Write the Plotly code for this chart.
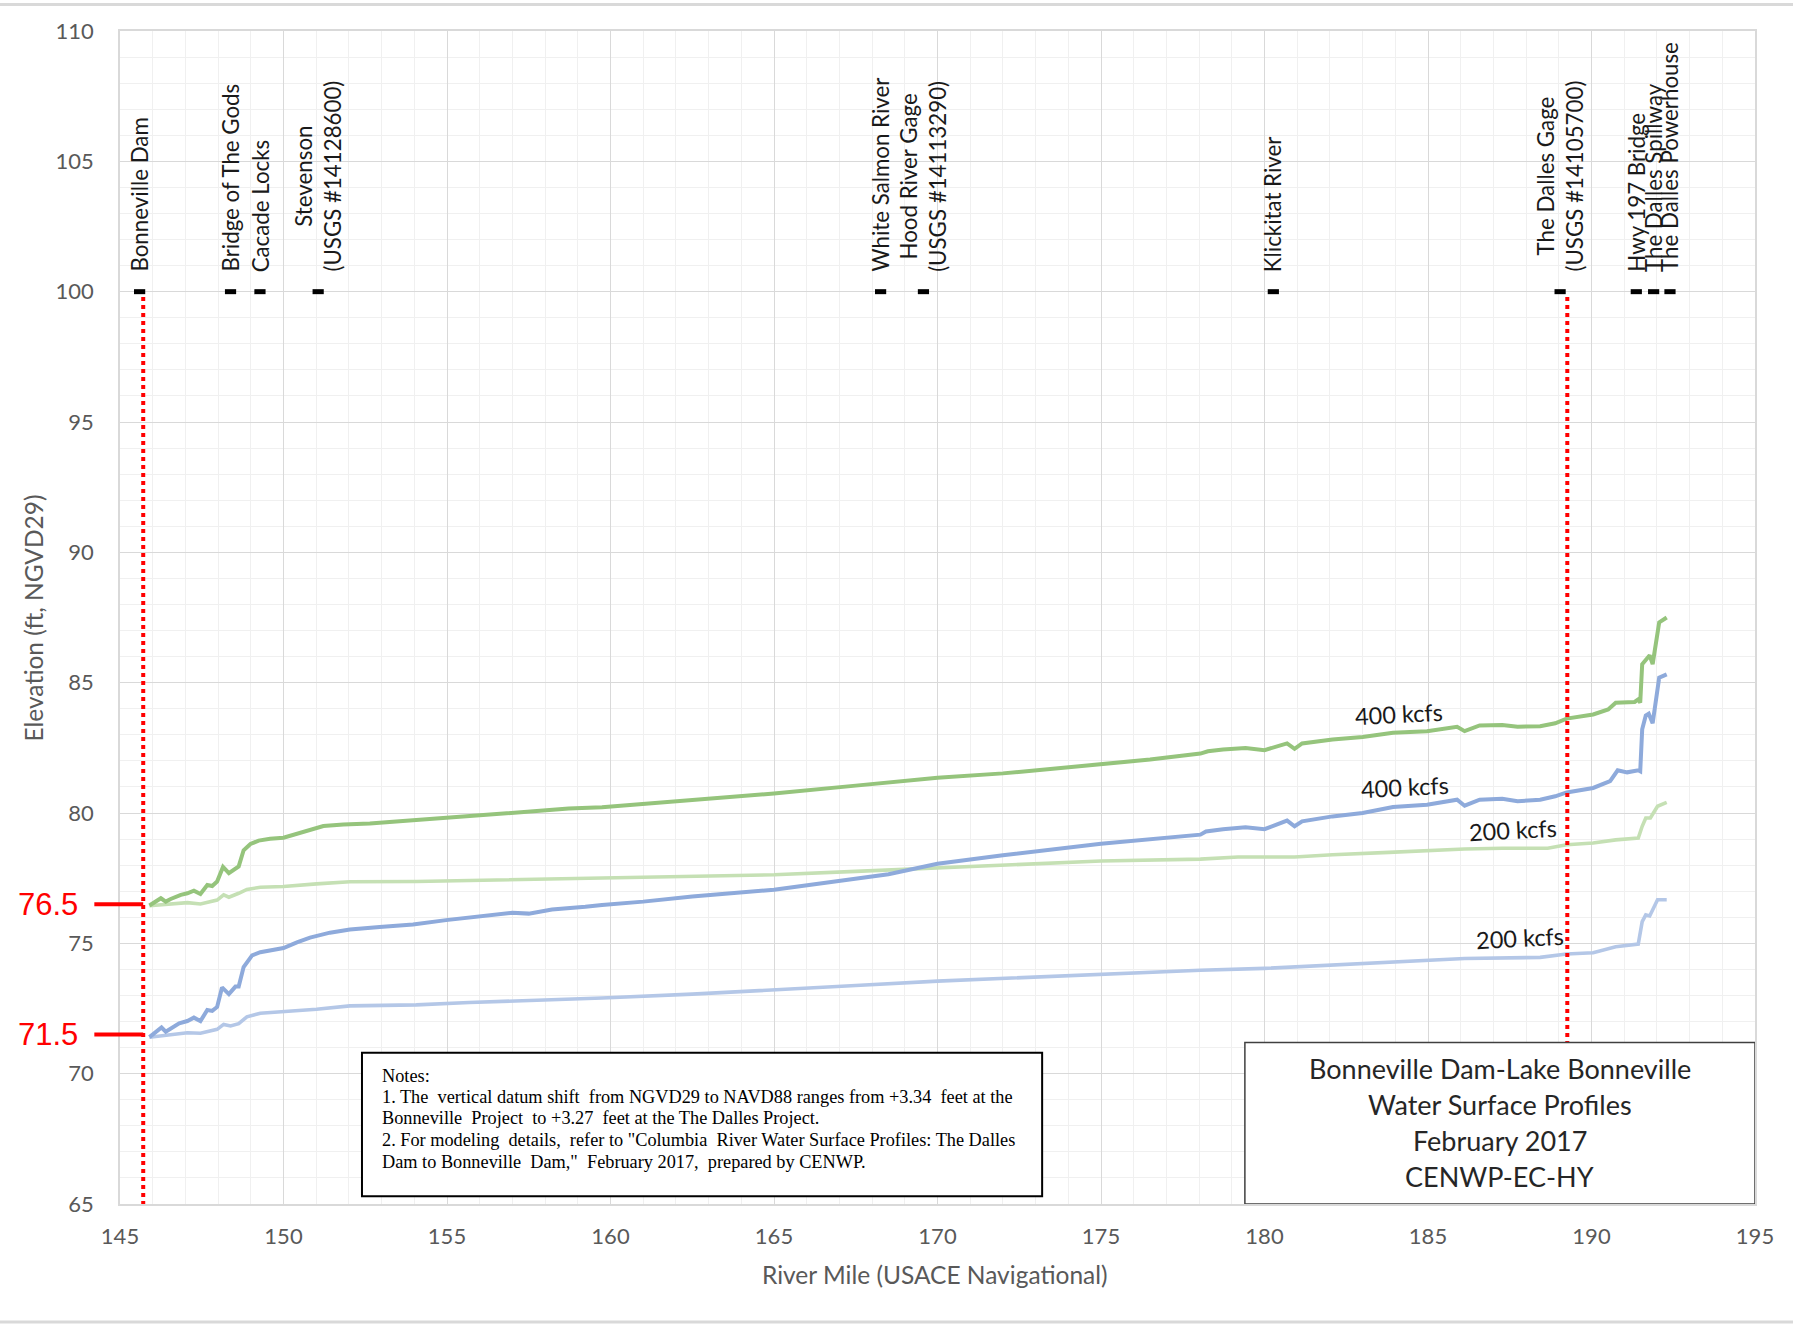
import plotly.graph_objects as go

# ---------------- data ----------------
g400_mile = [145.9, 146.15, 146.25, 146.4, 146.55, 146.86, 147.06, 147.26, 147.46, 147.67, 147.82, 147.97,
             148.15, 148.33, 148.53, 148.63, 148.78, 148.99, 149.24, 149.59, 150.0, 150.41, 150.81, 151.22,
             151.83, 152.64, 153.65, 154.67, 155.68, 156.69, 157.71, 158.72, 159.74, 161.0, 162.5, 165.0,
             167.5, 170.0, 172.0, 175.0, 176.5, 178.04, 178.27, 178.73, 179.42, 180.0, 180.69, 180.92,
             181.15, 182.08, 183.0, 183.93, 184.97, 185.89, 186.12, 186.58, 187.27, 187.74, 188.43, 188.89,
             189.24, 190.05, 190.51, 190.74, 191.32, 191.43, 191.49, 191.55, 191.66, 191.78, 191.87, 191.95,
             192.07, 192.3]
g400_elev = [76.45, 76.64, 76.73, 76.6, 76.7, 76.86, 76.92, 77.02, 76.89, 77.24, 77.2, 77.37,
             77.93, 77.69, 77.89, 77.95, 78.57, 78.81, 78.94, 79.01, 79.05, 79.21, 79.37, 79.5,
             79.56, 79.6, 79.69, 79.78, 79.88, 79.97, 80.05, 80.17, 80.22, 80.35, 80.5, 80.75,
             81.05, 81.35, 81.52, 81.89, 82.05, 82.28, 82.37, 82.44, 82.49, 82.41, 82.67, 82.46,
             82.67, 82.82, 82.92, 83.08, 83.14, 83.31, 83.14, 83.36, 83.38, 83.31, 83.33, 83.44,
             83.62, 83.78, 83.97, 84.23, 84.26, 84.36, 84.23, 85.71, 85.9, 86.05, 85.71, 86.28,
             87.31, 87.5]

b400_mile = [145.9, 146.15, 146.27, 146.4, 146.55, 146.81, 147.06, 147.26, 147.46, 147.67, 147.82, 147.97,
             148.12, 148.33, 148.53, 148.63, 148.78, 149.04, 149.29, 149.7, 150.0, 150.41, 150.81, 151.42,
             152.03, 152.94, 153.96, 154.97, 155.98, 157.0, 157.5, 158.21, 159.23, 159.74, 161.0, 162.5,
             165.0, 167.0, 168.5, 170.0, 172.0, 175.0, 177.0, 178.04, 178.21, 178.73, 179.42, 180.0,
             180.69, 180.92, 181.15, 182.08, 183.0, 183.93, 184.97, 185.89, 186.12, 186.58, 187.27, 187.74,
             188.43, 188.89, 189.24, 190.05, 190.57, 190.8, 191.09, 191.43, 191.49, 191.55, 191.66, 191.75,
             191.87, 191.95, 192.07, 192.3]
b400_elev = [71.4, 71.64, 71.77, 71.61, 71.74, 71.93, 72.02, 72.15, 72.02, 72.44, 72.41, 72.56,
             73.31, 73.05, 73.34, 73.34, 74.09, 74.54, 74.66, 74.76, 74.82, 75.04, 75.22, 75.41,
             75.53, 75.63, 75.72, 75.89, 76.02, 76.17, 76.14, 76.3, 76.4, 76.47, 76.6, 76.8,
             77.06, 77.41, 77.65, 78.05, 78.38, 78.82, 79.04, 79.17, 79.29, 79.38, 79.45, 79.38,
             79.71, 79.49, 79.68, 79.87, 80.0, 80.23, 80.32, 80.51, 80.28, 80.51, 80.55, 80.45,
             80.51, 80.64, 80.79, 80.96, 81.22, 81.64, 81.56, 81.64, 81.6, 83.21, 83.74, 83.81,
             83.44, 84.23, 85.19, 85.32]

g200_mile = [145.9, 146.55, 147.06, 147.46, 147.97, 148.17, 148.33, 148.63, 148.88, 149.29, 150.0, 151.01,
             152.03, 154.06, 155.68, 158.72, 159.74, 162.5, 165.0, 167.5, 170.0, 172.5, 175.0, 178.04,
             179.19, 180.92, 182.08, 183.81, 184.97, 186.12, 187.27, 188.66, 189.24, 190.05, 190.74, 191.43,
             191.55, 191.66, 191.8, 192.02, 192.3]
g200_elev = [76.44, 76.51, 76.56, 76.51, 76.66, 76.86, 76.77, 76.92, 77.07, 77.15, 77.18, 77.28,
             77.36, 77.37, 77.41, 77.46, 77.5, 77.55, 77.63, 77.76, 77.89, 78.02, 78.16, 78.23,
             78.31, 78.31, 78.4, 78.49, 78.56, 78.62, 78.65, 78.65, 78.78, 78.85, 78.97, 79.04,
             79.49, 79.81, 79.81, 80.26, 80.41]

b200_mile = [145.9, 146.55, 147.06, 147.46, 147.97, 148.17, 148.38, 148.63, 148.88, 149.29, 150.0, 151.01,
             152.03, 154.06, 155.68, 157.71, 159.74, 162.5, 165.0, 167.5, 170.0, 172.5, 175.0, 178.04,
             180.0, 181.5, 183.81, 186.12, 188.43, 189.24, 190.05, 190.74, 191.43, 191.55, 191.66, 191.78,
             192.02, 192.3]
b200_elev = [71.4, 71.51, 71.57, 71.55, 71.7, 71.89, 71.83, 71.92, 72.18, 72.32, 72.37, 72.47,
             72.6, 72.64, 72.73, 72.8, 72.9, 73.05, 73.2, 73.38, 73.55, 73.68, 73.82, 73.97,
             74.04, 74.13, 74.26, 74.42, 74.46, 74.59, 74.64, 74.87, 74.97, 75.83, 76.09, 76.05,
             76.67, 76.67]

landmark_names = ["Bonneville Dam", "Bridge of The Gods", "Cacade Locks", "Stevenson<br>(USGS #14128600)",
                  "White Salmon River", "Hood River Gage<br>(USGS #14113290)", "Klickitat River",
                  "The Dalles Gage<br>(USGS #14105700)", "Hwy 197 Bridge", "The Dalles Spillway",
                  "The Dalles Powerhouse"]
landmark_miles = [145.6, 148.38, 149.28, 151.06, 168.26, 169.57, 180.27, 189.04, 191.37, 191.9, 192.4]
landmark_elev = 100

guide_miles = [145.71, 189.26]          # red dotted verticals
guide_top, guide_bottom = 99.8, 65
ref_levels = [76.5, 71.5]               # red reference labels

flow_labels = ["400 kcfs", "400 kcfs", "200 kcfs", "200 kcfs"]
flow_label_x = [184.1, 184.3, 187.6, 187.8]
flow_label_y = [83.78, 80.98, 79.33, 75.22]

title_lines = ["Bonneville Dam-Lake Bonneville", "Water Surface Profiles", "February 2017", "CENWP-EC-HY"]
title_line_y = [70.18, 68.8, 67.42, 66.04]
notes_lines = ["Notes:",
               "1. The  vertical datum shift  from NGVD29 to NAVD88 ranges from +3.34  feet at the",
               "Bonneville  Project  to +3.27  feet at the The Dalles Project.",
               "2. For modeling  details,  refer to \"Columbia  River Water Surface Profiles: The Dalles",
               "Dam to Bonneville  Dam,\"  February 2017,  prepared by CENWP."]
notes_line_y = [69.92, 69.12, 68.31, 67.47, 66.62]

x_range = [145, 195]
y_range = [65, 110]

# ---------------- figure ----------------
fig = go.Figure()

series = [
    (g200_mile, g200_elev, "#c5e0b4", 3.6),
    (b200_mile, b200_elev, "#b4c7e7", 3.6),
    (b400_mile, b400_elev, "#8eaadb", 4),
    (g400_mile, g400_elev, "#95c47c", 4),
]
for xs, ys, col, w in series:
    fig.add_trace(go.Scatter(x=xs, y=ys, mode="lines", line=dict(color=col, width=w),
                             hoverinfo="skip", showlegend=False))

for gm in guide_miles:
    fig.add_trace(go.Scatter(x=[gm, gm], y=[guide_top, guide_bottom], mode="lines",
                             line=dict(color="#ff0000", width=4, dash="dot"),
                             hoverinfo="skip", showlegend=False))

fig.add_trace(go.Scatter(x=landmark_miles, y=[landmark_elev] * len(landmark_miles), mode="markers",
                         marker=dict(symbol="line-ew", size=8, color="black",
                                     line=dict(color="black", width=5)),
                         hoverinfo="skip", showlegend=False))

annotations = []
for name, m in zip(landmark_names, landmark_miles):
    annotations.append(dict(x=m, y=100.72, xref="x", yref="y", text=name, textangle=-90,
                            showarrow=False, xanchor="center", yanchor="bottom", align="center",
                            font=dict(family="Lato", size=22.3, color="#1a1a1a"), borderpad=0))

for t, x, y in zip(flow_labels, flow_label_x, flow_label_y):
    annotations.append(dict(x=x, y=y, xref="x", yref="y", text=t, textangle=-3, showarrow=False,
                            font=dict(family="Lato", size=23.5, color="#1a1a1a")))

def ypaper(v):
    return (v - y_range[0]) / (y_range[1] - y_range[0])

def xpaper(v):
    return (v - x_range[0]) / (x_range[1] - x_range[0])

shapes = []
for lv in ref_levels:
    annotations.append(dict(x=-0.0245, y=ypaper(lv), xref="paper", yref="paper", text=str(lv),
                            showarrow=False, xanchor="right", yanchor="middle",
                            font=dict(family="Liberation Sans", size=31, color="#ff0000")))
    shapes.append(dict(type="line", xref="paper", yref="paper", x0=-0.0157, x1=xpaper(guide_miles[0]),
                       y0=ypaper(lv), y1=ypaper(lv), line=dict(color="#ff0000", width=4)))

# notes box
shapes.append(dict(type="rect", xref="x", yref="y", x0=152.4, x1=173.2, y0=65.3, y1=70.8,
                   fillcolor="white", line=dict(color="black", width=2), layer="above"))
for t, yy in zip(notes_lines, notes_line_y):
    annotations.append(dict(x=152.95, y=yy, xref="x", yref="y", text=t,
                            showarrow=False, xanchor="left", yanchor="middle", align="left",
                            font=dict(family="Liberation Serif", size=18.3, color="black")))

# title box
shapes.append(dict(type="rect", xref="x", yref="y", x0=179.4, x1=195, y0=65, y1=71.2,
                   fillcolor="white", line=dict(color="#404040", width=1.5), layer="above"))
for t, yy in zip(title_lines, title_line_y):
    annotations.append(dict(x=187.2, y=yy, xref="x", yref="y", text=t, showarrow=False,
                            xanchor="center", yanchor="middle",
                            font=dict(family="Lato", size=27, color="#262626")))

# axis titles
annotations.append(dict(x=-0.0526, y=0.5, xref="paper", yref="paper", text="Elevation (ft, NGVD29)",
                        textangle=-90, showarrow=False, xanchor="center", yanchor="middle",
                        font=dict(family="Lato", size=24.5, color="#595959")))
annotations.append(dict(x=0.4985, y=-0.0605, xref="paper", yref="paper",
                        text="River Mile (USACE Navigational)", showarrow=False,
                        xanchor="center", yanchor="middle",
                        font=dict(family="Lato", size=24.5, color="#595959")))

# outer chart frame lines (top & bottom)
for yy in [1.0225, -0.1005]:
    shapes.append(dict(type="line", xref="paper", yref="paper", x0=-0.075, x1=1.03, y0=yy, y1=yy,
                       line=dict(color="#d9d9d9", width=3)))

fig.update_layout(
    width=1793, height=1326,
    margin=dict(l=120, r=38, t=31, b=122),
    paper_bgcolor="white", plot_bgcolor="white",
    showlegend=False,
    annotations=annotations, shapes=shapes,
    xaxis=dict(range=x_range, dtick=5, tick0=145, showgrid=True, gridcolor="#d9d9d9", gridwidth=1.3,
               zeroline=False, showline=True, linecolor="#d9d9d9", linewidth=1.5, mirror=True,
               ticks="outside", ticklen=12, tickcolor="rgba(0,0,0,0)",
               tickfont=dict(family="Lato", size=22, color="#595959"),
               minor=dict(dtick=1, showgrid=True, gridcolor="#f0f0f0", gridwidth=1)),
    yaxis=dict(range=y_range, dtick=5, tick0=65, showgrid=True, gridcolor="#d9d9d9", gridwidth=1.3,
               zeroline=False, showline=True, linecolor="#d9d9d9", linewidth=1.5, mirror=True,
               ticks="outside", ticklen=20, tickcolor="rgba(0,0,0,0)",
               tickfont=dict(family="Lato", size=22, color="#595959"),
               minor=dict(dtick=1, showgrid=True, gridcolor="#f0f0f0", gridwidth=1)),
)

fig.write_html("out.html", config={"displayModeBar": False},
               post_script="document.body.style.margin='0px';")
